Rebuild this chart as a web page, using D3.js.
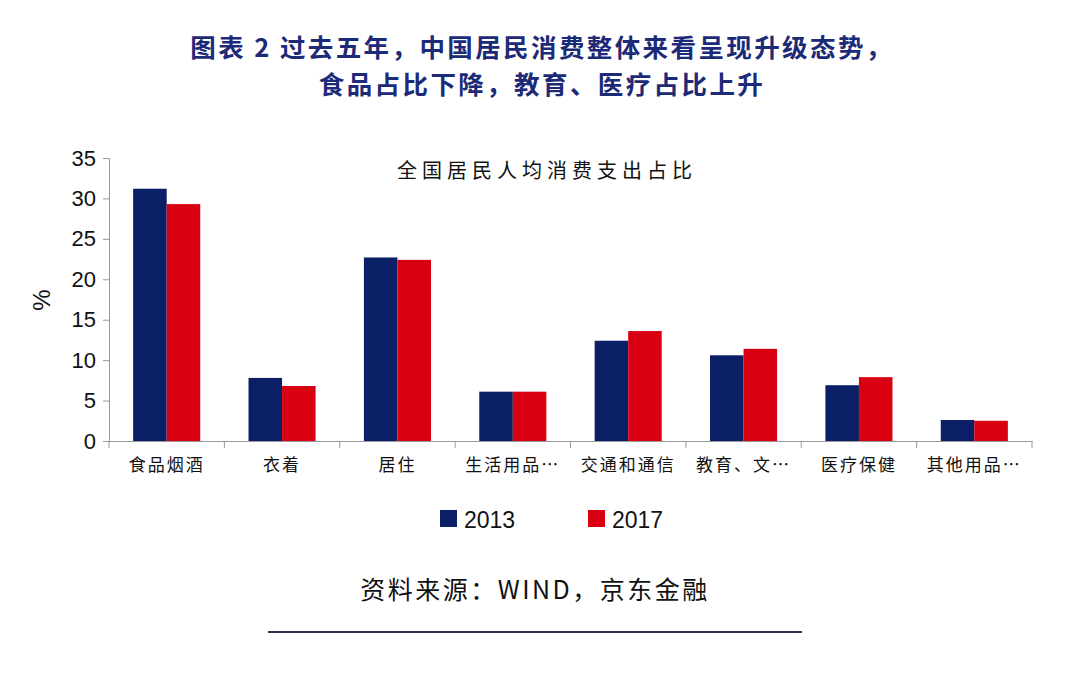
<!DOCTYPE html>
<html><head><meta charset="utf-8">
<script src="https://cdn.jsdelivr.net/npm/d3@7"></script>
<style>body{margin:0;background:#fff;}svg{display:block;}</style>
</head><body>
<svg id="c" width="1080" height="683"></svg>
<script>
const categories = ["食品烟酒","衣着","居住","生活用品…","交通和通信","教育、文…","医疗保健","其他用品…"];
const series2013 = [31.2, 7.8, 22.7, 6.1, 12.4, 10.6, 6.9, 2.6];
const series2017 = [29.3, 6.8, 22.4, 6.1, 13.6, 11.4, 7.9, 2.5];
const seriesNames = ["2013","2017"];
const yTicks = [0,5,10,15,20,25,30,35];
const titleLines = ["图表 2 过去五年，中国居民消费整体来看呈现升级态势，","食品占比下降，教育、医疗占比上升"];
const colors = ["#0b1f66","#d90012"];

(function(){
const svg = d3.select("#c");
const cjk = "'Noto Sans CJK SC', sans-serif";
const latin = "'Liberation Sans', Arial, sans-serif";

titleLines.forEach((t,i)=>{
  svg.append("text").attr("text-anchor","middle")
    .attr("font-family",cjk).attr("font-weight","bold").attr("font-size",25.5)
    .attr("letter-spacing",2.4).attr("fill","#1c2a78")
    .attr("x",542).attr("y",57+i*37).text(t);
});

const pLeft=109, pRight=1032, pTop=158, pBottom=441;
const x = d3.scaleBand().domain(categories).range([pLeft,pRight]).paddingInner(0).paddingOuter(0);
const y = d3.scaleLinear().domain([0,35]).range([pBottom,pTop]);
const inner = d3.scaleBand().domain(seriesNames).range([0,x.bandwidth()]).paddingInner(0).paddingOuter(0.72);

svg.append("text").attr("x",547).attr("y",178).attr("text-anchor","middle")
  .attr("font-family",cjk).attr("font-size",20).attr("letter-spacing",5).attr("fill","#111")
  .text("全国居民人均消费支出占比");

const data = categories.map((c,i)=>({c, v:[series2013[i], series2017[i]]}));
const g = svg.append("g");
data.forEach(d=>{
  seriesNames.forEach((s,j)=>{
    g.append("rect").attr("x",x(d.c)+inner(s)).attr("y",y(d.v[j]))
      .attr("width",inner.bandwidth()).attr("height",pBottom-y(d.v[j])).attr("fill",colors[j]);
  });
});

const ya = svg.append("g").attr("transform",`translate(${pLeft},0)`)
  .call(d3.axisLeft(y).tickValues(yTicks).tickSize(6).tickPadding(7));
ya.select(".domain").attr("stroke","#999");
ya.selectAll(".tick line").attr("stroke","#999");
ya.selectAll("text").attr("font-family",latin).attr("font-size",22).attr("fill","#111");

const xa = svg.append("g").attr("transform",`translate(0,${pBottom})`)
  .call(d3.axisBottom(x).tickSize(0).tickPadding(18));
xa.select(".domain").attr("stroke","#999");
xa.selectAll("text").attr("font-family",cjk).attr("font-size",17).attr("letter-spacing",2).attr("fill","#111");
const bounds = categories.map(c=>x(c)).concat([pRight]);
svg.append("g").selectAll("line").data(bounds).join("line")
  .attr("x1",d=>d).attr("x2",d=>d).attr("y1",pBottom).attr("y2",pBottom+7).attr("stroke","#999");

svg.append("text").attr("transform","translate(50,300) rotate(-90)").attr("text-anchor","middle")
  .attr("font-family",latin).attr("font-size",24).attr("fill","#111").text("%");

const legX = [440, 588];
seriesNames.forEach((s,j)=>{
  svg.append("rect").attr("x",legX[j]).attr("y",510).attr("width",17).attr("height",17).attr("fill",colors[j]);
  svg.append("text").attr("x",legX[j]+24).attr("y",528).attr("font-family",latin).attr("font-size",23)
    .attr("fill","#111").text(s);
});

svg.append("text").attr("x",535).attr("y",599).attr("text-anchor","middle")
  .attr("font-family",cjk).attr("font-size",25).attr("letter-spacing",2.5).attr("fill","#111")
  .text("资料来源：WIND，京东金融");
svg.append("line").attr("x1",268).attr("x2",802).attr("y1",632).attr("y2",632)
  .attr("stroke","#2a3350").attr("stroke-width",2);
})();
</script>
</body></html>
